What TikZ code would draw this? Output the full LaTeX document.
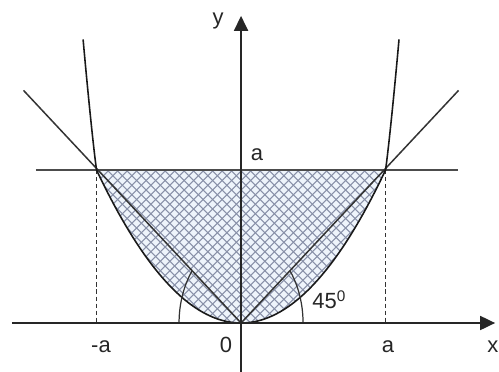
\documentclass[tikz,border=0pt]{standalone}
\usepackage{fontspec}
\setmainfont{Liberation Sans}
\usetikzlibrary{arrows.meta}
\definecolor{hatchblue}{HTML}{8890A8}
\definecolor{areafill}{HTML}{EEF4FB}
\tikzset{
  axisline/.style={draw=black!85,line width=0.9pt,-{Triangle[length=8.5pt,width=8pt]}},
  thinline/.style={draw=black!80,line width=0.7pt},
  diagline/.style={draw=black!80,line width=0.85pt},
  levelline/.style={draw=black!70,line width=0.9pt},
  curveline/.style={draw=black!90,line width=0.9pt},
  dashline/.style={draw=black!80,line width=0.7pt,dash pattern=on 2.3pt off 1.7pt},
  hatchline/.style={draw=hatchblue,line width=0.6pt},
  lbl/.style={font=\fontsize{12.5}{14}\selectfont,text=black!85,inner sep=0pt,anchor=base}
}

\begin{document}
\begin{tikzpicture}[x=2.89cm,y=3.06cm]
  \useasboundingbox (-1.668,-0.314) rectangle (1.785,2.111);
  \coordinate (O) at (0,0);
  \coordinate (A) at (1,1);
  \coordinate (B) at (-1,1);
  \coordinate (ax) at (1,0);
  \coordinate (bx) at (-1,0);
  \coordinate (hl) at (-1.419,1);
  \coordinate (hr) at (1.502,1);
  \coordinate (ltip) at (-1.505,1.52);
  \coordinate (rtip) at (1.505,1.52);
  \coordinate (ltop) at (-1.093,1.853);
  \coordinate (rtop) at (1.093,1.853);
  \coordinate (xl) at (-1.585,0);
  \coordinate (xr) at (1.758,0);
  \coordinate (yb) at (0,-0.32);
  \coordinate (yt) at (0,2.007);
  \coordinate (r1) at (0.429,0);
  \coordinate (l1) at (-0.429,0);

  % hatched area
  \begin{scope}
    \clip (B) -- (A) -- plot[domain=1:-1,samples=60] (\x,{\x*\x}) -- cycle;
    \fill[areafill] (-1.1,-0.1) rectangle (1.1,1.1);
    \foreach \i in {-34,...,34} {
      \draw[hatchline] ({\i*0.19cm},0cm) -- ++(4cm,4cm);
      \draw[hatchline] ({\i*0.19cm},0cm) -- ++(-4cm,4cm);
    }
  \end{scope}

  \draw[dashline] (B) -- (bx);
  \draw[dashline] (A) -- (ax);
  \draw[levelline] (hl) -- (hr);
  \draw[diagline] (ltip) -- (O) -- (rtip);
  \draw[curveline] (ltop) .. controls (-1.05,1.4) and (-1.015,1.1) .. (B)
    -- plot[domain=-1:1,samples=80] (\x,{\x*\x})
    -- (A) .. controls (1.015,1.1) and (1.05,1.4) .. (rtop);

  % angle marks
  \draw[thinline] (r1) arc[start angle=0,end angle=37.5,x radius=1.24cm,y radius=1.7cm];
  \draw[thinline] (l1) arc[start angle=180,end angle=142.5,x radius=1.24cm,y radius=1.7cm];

  \draw[axisline] (xl) -- (xr);
  \draw[axisline] (yb) -- (yt);

  \node[lbl] (ylab) at (-0.159,1.948) {y};
  \node[lbl] (xlab) at (1.742,-0.196) {x};
  \node[lbl] (alab) at (0.111,1.059) {a};
  \node[lbl] (malab) at (-0.969,-0.19) {-a};
  \node[lbl] (zlab) at (-0.104,-0.19) {0};
  \node[lbl] (aaxlab) at (1.017,-0.19) {a};
  \node[lbl,anchor=base west] (anglab) at (0.491,0.092) {45\textsuperscript{0}};
\end{tikzpicture}
\end{document}
